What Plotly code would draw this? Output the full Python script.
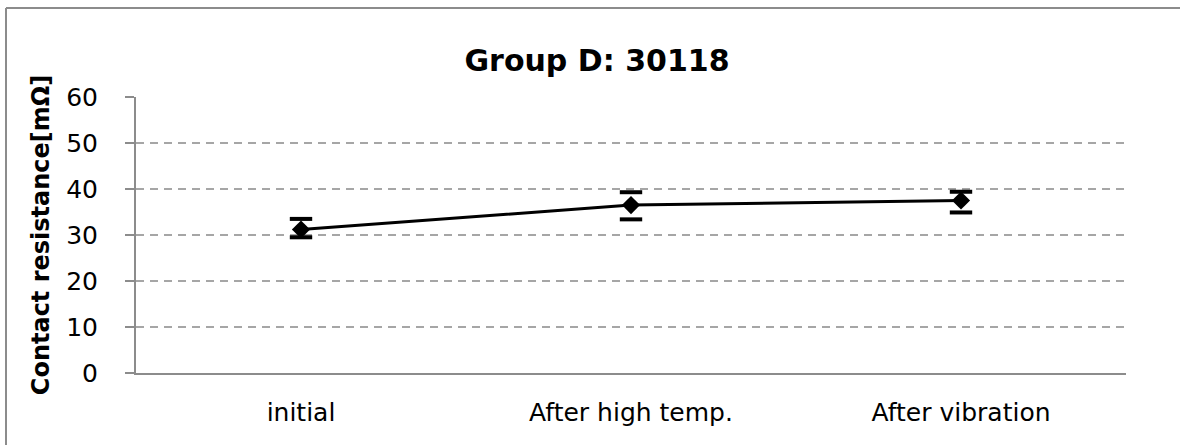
import plotly.graph_objects as go

categories = ["initial", "After high temp.", "After vibration"]
values = [31.2, 36.5, 37.5]
err_plus = [2.3, 2.8, 1.9]
err_minus = [1.7, 3.1, 2.6]
y_ticks = [0, 10, 20, 30, 40, 50, 60]

upper = [v + e for v, e in zip(values, err_plus)]
lower = [v - e for v, e in zip(values, err_minus)]

FONT = "DejaVu Sans, Verdana, sans-serif"

fig = go.Figure()
fig.add_trace(go.Scatter(
    x=categories, y=values, mode="lines+markers",
    line=dict(color="black", width=3),
    marker=dict(symbol="diamond", size=14, color="black"),
    showlegend=False,
))
fig.add_trace(go.Scatter(
    x=categories + categories, y=upper + lower, mode="markers",
    marker=dict(symbol="line-ew", size=16, line=dict(color="black", width=4)),
    showlegend=False,
))

L, R, T, B = 136, 54, 97, 72
W, H = 1180, 445
pw, ph = W - L - R, H - T - B

fx0 = (6 - L) / pw
fx1 = (W + 20 - L) / pw
fy0 = (H - B - (H + 20)) / ph
fy1 = (H - B - 8) / ph
frame = dict(color="#8c8c8c", width=2)

fig.update_layout(
    width=W, height=H,
    margin=dict(l=L, r=R, t=T, b=B),
    paper_bgcolor="white", plot_bgcolor="white",
    font=dict(family=FONT, color="black"),
    title=dict(text="<b>Group D: 30118</b>", x=597 / W, xanchor="center",
               y=1 - 60 / H, yanchor="middle", font=dict(size=30, family=FONT)),
    xaxis=dict(
        type="category", showline=True, linecolor="#8c8c8c", linewidth=2,
        showgrid=False, ticks="", tickfont=dict(size=25), ticklabelstandoff=16,
        range=[-0.5, 2.5],
    ),
    yaxis=dict(
        range=[0, 60], tickvals=y_ticks, showline=True, linecolor="#8c8c8c", linewidth=2,
        ticks="outside", ticklen=9, tickcolor="#8c8c8c", tickwidth=2,
        showgrid=True, gridcolor="#a6a6a6", gridwidth=2, griddash="8px,6px",
        tickfont=dict(size=25), ticklabelstandoff=22, zeroline=False,
        title=dict(text="<b>Contact resistance[mΩ]</b>", font=dict(size=24), standoff=10),
    ),
    shapes=[
        dict(type="line", xref="paper", yref="paper", x0=fx0, x1=fx0, y0=fy0, y1=fy1,
             line=frame, layer="below"),
        dict(type="line", xref="paper", yref="paper", x0=fx0, x1=fx1, y0=fy1, y1=fy1,
             line=frame, layer="below"),
    ],
)

fig.write_html(
    "out.html", config={"displayModeBar": False},
    post_script="document.body.style.margin='0';document.body.style.overflow='hidden';"
                "document.documentElement.style.overflow='hidden';",
)
